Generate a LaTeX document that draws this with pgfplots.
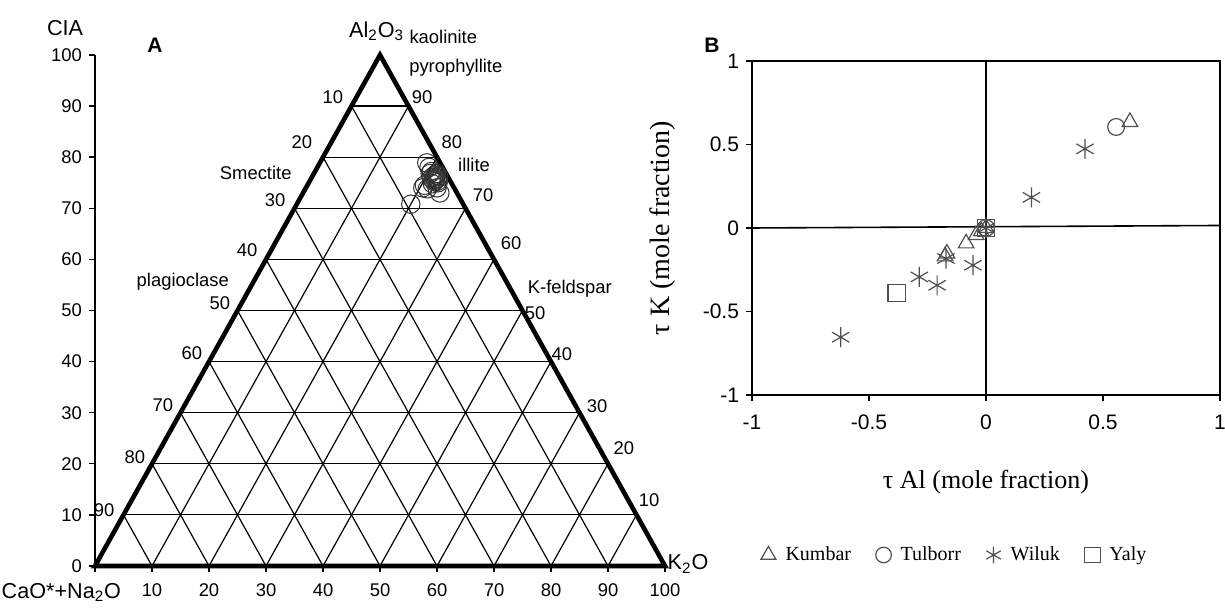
\documentclass[border=0pt]{standalone}
\usepackage{fontspec}
\setmainfont{Liberation Serif}
\setsansfont{Liberation Sans}
\usepackage{pgfplots}
\pgfplotsset{compat=1.18}
\definecolor{Mk}{HTML}{505050}
\newcommand{\fa}{\sffamily\fontsize{9.2}{10}\selectfont}
\newcommand{\fb}{\sffamily\fontsize{10.8}{12}\selectfont}
\newcommand{\fc}{\sffamily\fontsize{10.5}{12}\selectfont}
\pgfplotsset{lgimg/.style={legend image code/.code={\draw[##1] plot coordinates {(0.15cm,0cm)}; \path[draw=none,fill=none] (0cm,0cm) -- (0.38cm,0cm);}}}

\begin{document}
\begin{tikzpicture}[x=1pt,y=1pt]
\useasboundingbox (0,0) rectangle (612.5,304);

% panel A: A-CN-K ternary
\begin{axis}[
  at={(47.5pt,21pt)}, anchor=origin,
  scale only axis, width=285pt, height=255.5pt,
  xmin=0, xmax=100, ymin=0, ymax=100,
  axis lines=left, axis line style={-, line width=0.9pt},
  xtick={0,10,...,100}, ytick={0,10,...,100},
  xticklabels={,10,20,30,40,50,60,70,80,90,100},
  tick align=outside, major tick length=3pt,
  tick style={line width=0.7pt, black},
  ticklabel style={font=\fa},
  xticklabel style={yshift=-2.5pt},
  /pgf/number format/assume math mode=true,
  clip=false,
]
\pgfplotsinvokeforeach{10,20,...,90}{
  \draw[line width=0.6pt] (axis cs:#1,0) -- (axis cs:{50+#1/2},{100-#1});
  \draw[line width=0.6pt] (axis cs:#1,0) -- (axis cs:{#1/2},#1);
  \draw[line width=0.6pt] (axis cs:{#1/2},#1) -- (axis cs:{100-#1/2},#1);
}
\draw[line width=2.3pt, line join=miter] (axis cs:0,0) -- (axis cs:50,100) -- (axis cs:100,0) -- cycle;

\addplot[only marks, mark=o, mark size=4.6pt, black!80, mark options={line width=0.5pt}] coordinates {
  (58.2,78.9) (58.6,78.0) (59.0,77.2) (59.6,76.1) (59.8,76.5) (60.0,75.8)
  (59.3,75.6) (59.5,75.2) (60.2,75.0) (59.0,75.9) (59.9,76.8) (60.3,76.2)
  (59.2,74.8) (57.8,74.5) (57.5,74.0) (58.3,73.8) (60.5,73.0) (60.0,74.0)
  (58.8,76.8) (59.7,75.5) (59.4,76.3) (60.1,75.3) (55.4,70.8)
};

\begin{scope}[font=\fa]
\node at (axis cs:41.75,91.8) {10};
\node at (axis cs:36.3,83.0) {20};
\node at (axis cs:31.6,71.6) {30};
\node at (axis cs:26.7,61.8) {40};
\node at (axis cs:21.9,51.5) {50};
\node at (axis cs:17.0,41.7) {60};
\node at (axis cs:11.9,31.5) {70};
\node at (axis cs:7.0,21.3) {80};
\node at (axis cs:1.6,11.0) {90};
\node at (axis cs:57.4,91.8) {90};
\node at (axis cs:62.6,83.0) {80};
\node at (axis cs:68.1,72.6) {70};
\node at (axis cs:73.0,63.2) {60};
\node at (axis cs:77.2,49.5) {50};
\node at (axis cs:81.9,41.5) {40};
\node at (axis cs:88.1,31.3) {30};
\node at (axis cs:92.8,23.1) {20};
\node at (axis cs:97.2,12.9) {10};
\node at (axis cs:61.1,103.5) {kaolinite};
\node at (axis cs:63.3,97.5) {pyrophyllite};
\node at (axis cs:66.5,78.5) {illite};
\node at (axis cs:28.2,76.9) {Smectite};
\node at (axis cs:15.4,55.6) {plagioclase};
\node at (axis cs:83.3,54.2) {K-feldspar};
\end{scope}
\begin{scope}[font=\fb]
\node at (axis cs:-5.26,105.3) {CIA};
\node at (axis cs:49.4,104.7) {Al\textsubscript{2}O\textsubscript{3}};
\node[anchor=west, inner sep=0pt] at (axis cs:100.4,0.4) {K\textsubscript{2}O};
\node at (axis cs:-5.9,-5.2) {CaO*+Na\textsubscript{2}O};
\end{scope}
\end{axis}

% panel B: tau K vs tau Al
\begin{axis}[
  at={(493pt,190pt)}, anchor=origin,
  scale only axis, width=234pt, height=167pt,
  xmin=-1, xmax=1, ymin=-1, ymax=1,
  xtick={-1,-0.5,0,0.5,1}, ytick={-1,-0.5,0,0.5,1},
  xtick pos=left, ytick pos=left,
  axis line style={line width=1pt},
  tick align=outside, major tick length=3pt,
  tick style={line width=0.7pt, black},
  ticklabel style={font=\fc},
  xticklabel style={yshift=-3.5pt},
  /pgf/number format/assume math mode=true,
  xlabel={τ Al (mole fraction)}, ylabel={τ K (mole fraction)},
  every axis x label/.style={at={(axis description cs:0.5,-0.26)}, anchor=center,
    font=\fontsize{13}{15}\selectfont},
  every axis y label/.style={at={(axis description cs:-0.19,0.5)}, anchor=center, rotate=90,
    font=\fontsize{14}{16}\selectfont},
  legend columns=4,
  legend style={at={(0.434,-0.479)}, anchor=center, draw=none, fill=none,
    font=\fontsize{10}{12}\selectfont,
    /tikz/every even column/.append style={column sep=10pt}},
  clip=false,
]
\draw[line width=0.8pt] (axis cs:0,-1) -- (axis cs:0,1);
\draw[line width=0.8pt] (axis cs:-1,0) -- (axis cs:1,0.015);

\addplot[forget plot, only marks, mark=triangle, mark size=4.5pt, Mk, mark options={line width=0.6pt}] coordinates {
  (0.615,0.635) (-0.042,-0.042) (-0.085,-0.092) (-0.167,-0.153) (-0.175,-0.17) (-0.02,-0.02) (0,0)
};
\addplot[forget plot, only marks, mark=o, mark size=4.2pt, Mk, mark options={line width=0.6pt}] coordinates {
  (0.556,0.605) (0,0)
};
\addplot[forget plot, only marks, mark=asterisk, mark size=5pt, Mk, mark options={line width=0.6pt}] coordinates {
  (0.423,0.474) (0.194,0.183) (-0.171,-0.183) (-0.056,-0.223) (-0.285,-0.293) (-0.209,-0.343) (-0.621,-0.654) (0,0)
};
\addplot[forget plot, only marks, mark=square, mark size=4.4pt, Mk, mark options={line width=0.6pt}] coordinates {
  (-0.381,-0.389) (0,0)
};

\addlegendimage{only marks, lgimg, mark=triangle, mark size=4.3pt, Mk, mark options={line width=0.6pt}}
\addlegendentry{Kumbar}
\addlegendimage{only marks, lgimg, mark=o, mark size=3.9pt, Mk, mark options={line width=0.6pt}}
\addlegendentry{Tulborr}
\addlegendimage{only marks, lgimg, mark=asterisk, mark size=4.2pt, Mk, mark options={line width=0.6pt}}
\addlegendentry{Wiluk}
\addlegendimage{only marks, lgimg, mark=square, mark size=3.9pt, Mk, mark options={line width=0.6pt}}
\addlegendentry{Yaly}
\end{axis}

\node[font=\sffamily\bfseries\fontsize{10.5}{12}\selectfont] at (77.5,281.5) {A};
\node[font=\sffamily\bfseries\fontsize{10.5}{12}\selectfont] at (356,281.5) {B};
\end{tikzpicture}
\end{document}
